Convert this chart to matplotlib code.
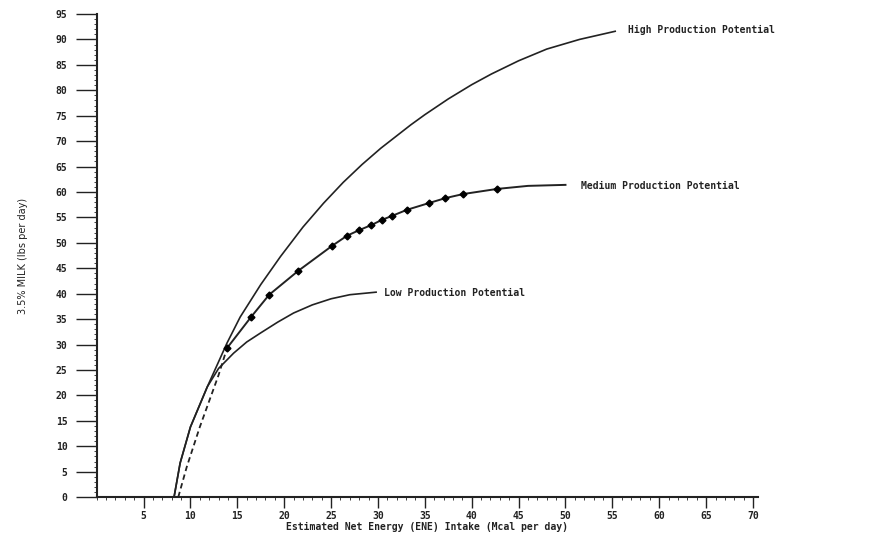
import matplotlib
matplotlib.use("Agg")
import matplotlib.pyplot as plt
from matplotlib.ticker import MultipleLocator

# curves (x = Mcal/day, y = lbs milk/day)
high_x = [8.25, 8.9, 10.0, 11.8, 13.9, 15.3, 17.5, 19.6, 22.0, 24.2, 26.3, 28.3, 30.3, 33.5, 35.0, 37.5, 40.0, 42.1, 45.0, 48.0, 51.5, 55.3]
high_y = [0, 6.7, 13.8, 21.7, 30.3, 35.4, 41.8, 47.3, 53.1, 57.8, 61.9, 65.4, 68.6, 73.2, 75.2, 78.3, 81.1, 83.2, 85.8, 88.1, 90.0, 91.6]

med_x = [13.9, 16.5, 18.4, 21.5, 25.1, 26.7, 28.0, 29.3, 30.4, 31.5, 33.1, 35.4, 37.2, 39.1, 42.7, 46.0, 50.0]
med_y = [29.3, 35.5, 39.8, 44.5, 49.4, 51.4, 52.5, 53.5, 54.5, 55.3, 56.5, 57.8, 58.8, 59.6, 60.6, 61.2, 61.4]
med_dot_x = [13.9, 16.5, 18.4, 21.5, 25.1, 26.7, 28.0, 29.3, 30.4, 31.5, 33.1, 35.4, 37.2, 39.1, 42.7]
med_dot_y = [29.3, 35.5, 39.8, 44.5, 49.4, 51.4, 52.5, 53.5, 54.5, 55.3, 56.5, 57.8, 58.8, 59.6, 60.6]
med_dash_x = [8.7, 9.6, 11.0, 12.0, 13.0, 13.9]
med_dash_y = [0, 5.9, 13.8, 18.9, 24.0, 29.3]

low_x = [8.25, 8.9, 10.0, 11.8, 13.0, 14.6, 16.0, 17.5, 19.3, 21.0, 23.0, 25.0, 27.0, 29.8]
low_y = [0, 6.7, 13.8, 21.7, 25.3, 28.3, 30.5, 32.3, 34.4, 36.2, 37.8, 39.0, 39.8, 40.3]

labels = ["High Production Potential", "Medium Production Potential", "Low Production Potential"]
label_pos = [(56.7, 91.8), (51.7, 61.2), (30.6, 40.2)]

x_ticks = list(range(5, 75, 5))
y_ticks = list(range(0, 100, 5))

font = "DejaVu Sans Mono"
ink = "#222222"

fig = plt.figure(figsize=(8.79, 5.38), dpi=100)
ax = fig.add_axes([0.110, 0.076, 0.752, 0.898])

ax.plot(high_x, high_y, color=ink, lw=1.2)
ax.plot(low_x, low_y, color=ink, lw=1.2)
ax.plot(med_x, med_y, color=ink, lw=1.4)
ax.plot(med_dash_x, med_dash_y, color=ink, lw=1.3, ls=(0, (3, 2)))
ax.plot(med_dot_x, med_dot_y, ls="none", marker="D", ms=3.5, color="black")

for txt, (px, py) in zip(labels, label_pos):
    ax.text(px, py, txt, fontsize=7, family=font, weight="bold", color=ink,
            va="center", ha="left")

ax.set_xlim(0, 70.5)
ax.set_ylim(0, 95)
ax.set_xticks(x_ticks)
ax.set_yticks(y_ticks)
ax.xaxis.set_minor_locator(MultipleLocator(1))
ax.yaxis.set_minor_locator(MultipleLocator(1))
ax.tick_params(axis="y", which="major", length=15, width=1, labelsize=7, colors=ink, pad=6)
ax.tick_params(axis="x", which="major", length=8, width=1, labelsize=7, colors=ink, pad=2)
ax.tick_params(which="minor", length=2, width=0.6, colors=ink)
for lab in ax.get_xticklabels() + ax.get_yticklabels():
    lab.set_family(font)
    lab.set_weight("bold")

for s in ["top", "right"]:
    ax.spines[s].set_visible(False)
for s in ["left", "bottom"]:
    ax.spines[s].set_linewidth(1.5)
    ax.spines[s].set_color(ink)

ax.set_xlabel("Estimated Net Energy (ENE) Intake (Mcal per day)", fontsize=7,
              family=font, weight="bold", color=ink, labelpad=1)
ax.set_ylabel("3.5% MILK (lbs per day)", fontsize=7, family="DejaVu Sans Condensed",
              color=ink, labelpad=20)

fig.savefig("out.png", dpi=100)
